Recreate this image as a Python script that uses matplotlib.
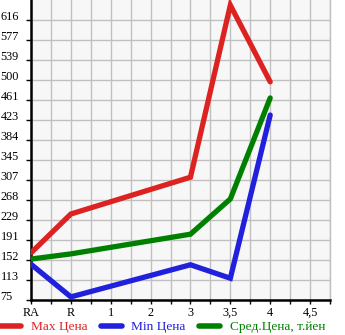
import matplotlib
matplotlib.use("Agg")
import matplotlib.pyplot as plt
from matplotlib.lines import Line2D

categories = ["RA", "R", "1", "2", "3", "3,5", "4", "4,5"]
point_idx = [0, 1, 4, 5, 6]
max_price = [166, 241, 312, 644, 496]
min_price = [144, 81, 143, 117, 432]
avg_price = [154, 164, 202, 270, 465]
y_ticks = [75, 113, 152, 191, 229, 268, 307, 345, 384, 423, 461, 500, 539, 577, 616]
series_names = ["Max Цена", "Min Цена", "Сред.Цена, т.йен"]
colors = ["#dd2222", "#2020dd", "#008000"]

plt.rcParams['font.family'] = ['Liberation Serif', 'DejaVu Serif']

W, H = 345, 335
fig = plt.figure(figsize=(W/100, H/100), dpi=100)
ax = fig.add_axes([31/W, 35/H, 299/W, 300/H])
ax.set_facecolor("#f7f7f7")

for vals, c in zip([max_price, min_price, avg_price], colors):
    ax.plot(point_idx, vals, color=c, lw=3.8, solid_capstyle='round', solid_joinstyle='miter', zorder=3)

ax.set_xlim(0, 7.5)
ax.set_ylim(75, 654)
ax.set_xticks(range(len(categories)))
ax.set_xticklabels(categories, fontsize=8.8)
ax.set_xticks([i + 0.5 for i in range(len(categories))], minor=True)
ax.set_yticks(y_ticks)
ax.set_yticklabels([str(v) for v in y_ticks], fontsize=8.8, ha='left', va='baseline')
ax.tick_params(axis='y', length=3.5, width=1, pad=18.5, colors='black')
ax.tick_params(axis='x', which='both', length=3, width=1, pad=2, direction='out')
ax.grid(True, which='both', color='#c0c0c0', lw=1)
ax.set_axisbelow(True)
ax.spines['top'].set_visible(False)
ax.spines['right'].set_color('#c0c0c0')
ax.spines['right'].set_linewidth(1)
ax.spines['left'].set_linewidth(1.8)
ax.spines['bottom'].set_linewidth(1.8)

handles = [Line2D([0], [0], color=c, lw=4, solid_capstyle='round') for c in colors]
leg = fig.legend(handles, series_names, loc='center left', bbox_to_anchor=(0.0, 8/H),
                 ncol=3, frameon=False, fontsize=9.6, handlelength=1.6, handletextpad=0.7,
                 columnspacing=1.0, borderpad=0, borderaxespad=0, labelcolor='linecolor')

fig.savefig("out.png", dpi=100, facecolor="white")
